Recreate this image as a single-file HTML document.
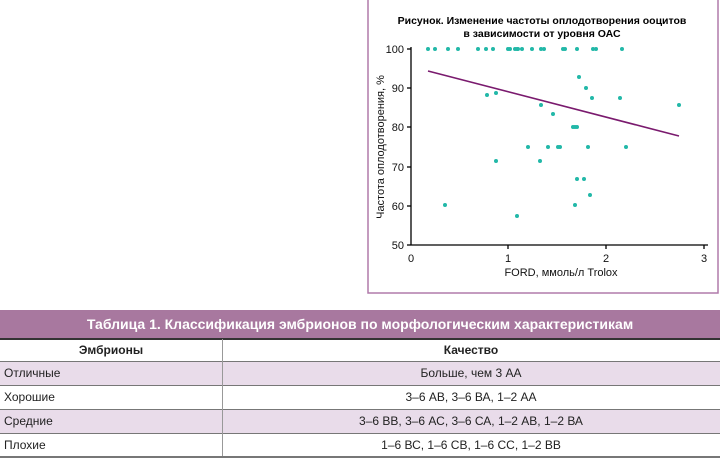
<!DOCTYPE html>
<html><head><meta charset="utf-8"><style>
body{margin:0;width:720px;height:461px;background:#fff;position:relative;overflow:hidden;font-family:"Liberation Sans Narrow","Liberation Sans",sans-serif;}
.a{position:absolute;}
.t{font-size:12px;color:#222;}
</style></head><body>
<svg class="a" style="left:0;top:0" width="720" height="300" font-family="Liberation Sans, sans-serif">
<rect x="368" y="-2" width="350" height="295" fill="none" stroke="#b07aaa" stroke-width="1.5"/>
<text x="542" y="24" text-anchor="middle" font-size="10.5" font-weight="bold">Рисунок. Изменение частоты оплодотворения ооцитов</text>
<text x="542" y="37" text-anchor="middle" font-size="10.5" font-weight="bold">в зависимости от уровня ОАС</text>
<g stroke="#000" stroke-width="1.3">
<line x1="411" y1="47" x2="411" y2="245"/><line x1="411" y1="245" x2="708" y2="245"/>
<line x1="407" y1="49" x2="411" y2="49"/><line x1="407" y1="88" x2="411" y2="88"/><line x1="407" y1="127" x2="411" y2="127"/><line x1="407" y1="167" x2="411" y2="167"/><line x1="407" y1="206" x2="411" y2="206"/><line x1="407" y1="245" x2="411" y2="245"/>
<line x1="508" y1="245" x2="508" y2="249"/><line x1="606" y1="245" x2="606" y2="249"/><line x1="704" y1="245" x2="704" y2="249"/>
</g>
<g font-size="11" text-anchor="end" fill="#111">
<text x="404" y="53">100</text><text x="404" y="92">90</text><text x="404" y="131">80</text><text x="404" y="171">70</text><text x="404" y="210">60</text><text x="404" y="249">50</text>
</g>
<g font-size="11" text-anchor="middle" fill="#111">
<text x="411" y="262">0</text><text x="508" y="262">1</text><text x="606" y="262">2</text><text x="704" y="262">3</text>
<text x="561" y="276">FORD, ммоль/л Trolox</text>
</g>
<text transform="translate(384,147) rotate(-90)" font-size="11" text-anchor="middle" fill="#111">Частота оплодотворения, %</text>
<line x1="428" y1="71" x2="679" y2="136" stroke="#7a1a6e" stroke-width="1.6"/>
<g fill="#22b8a8">
<circle cx="428" cy="49" r="2"/><circle cx="435" cy="49" r="2"/><circle cx="448" cy="49" r="2"/><circle cx="458" cy="49" r="2"/><circle cx="478" cy="49" r="2"/><circle cx="486" cy="49" r="2"/><circle cx="493" cy="49" r="2"/><circle cx="508" cy="49" r="2"/><circle cx="510" cy="49" r="2"/><circle cx="515" cy="49" r="2"/><circle cx="517" cy="49" r="2"/><circle cx="518" cy="49" r="2"/><circle cx="522" cy="49" r="2"/><circle cx="532" cy="49" r="2"/><circle cx="541" cy="49" r="2"/><circle cx="544" cy="49" r="2"/><circle cx="563" cy="49" r="2"/><circle cx="565" cy="49" r="2"/><circle cx="577" cy="49" r="2"/><circle cx="593" cy="49" r="2"/><circle cx="596" cy="49" r="2"/><circle cx="622" cy="49" r="2"/>
<circle cx="579" cy="77" r="2"/><circle cx="586" cy="88" r="2"/><circle cx="487" cy="95" r="2"/><circle cx="496" cy="93" r="2"/><circle cx="592" cy="98" r="2"/><circle cx="620" cy="98" r="2"/><circle cx="679" cy="105" r="2"/><circle cx="541" cy="105" r="2"/><circle cx="553" cy="114" r="2"/><circle cx="573" cy="127" r="2"/><circle cx="575" cy="127" r="2"/><circle cx="577" cy="127" r="2"/><circle cx="528" cy="147" r="2"/><circle cx="548" cy="147" r="2"/><circle cx="558" cy="147" r="2"/><circle cx="560" cy="147" r="2"/><circle cx="588" cy="147" r="2"/><circle cx="626" cy="147" r="2"/><circle cx="496" cy="161" r="2"/><circle cx="540" cy="161" r="2"/><circle cx="577" cy="179" r="2"/><circle cx="584" cy="179" r="2"/><circle cx="590" cy="195" r="2"/><circle cx="445" cy="205" r="2"/><circle cx="575" cy="205" r="2"/><circle cx="517" cy="216" r="2"/>
</g>
</svg>
<div class="a" style="left:0;top:310px;width:720px;height:28px;background:#a8789f;color:#fff;font-weight:bold;font-size:14px;text-align:center;line-height:28px;">Таблица 1. Классификация эмбрионов по морфологическим характеристикам</div>
<div class="a" style="left:0;top:338px;width:720px;height:1.5px;background:#333"></div>
<div class="a t" style="left:0;top:339px;width:222px;height:23px;line-height:23px;text-align:center;font-weight:bold;">Эмбрионы</div>
<div class="a t" style="left:222px;top:339px;width:498px;height:23px;line-height:23px;text-align:center;font-weight:bold;">Качество</div>
<div class="a" style="left:0;top:362px;width:720px;height:23px;background:#e9dcea"></div>
<div class="a" style="left:0;top:409px;width:720px;height:24px;background:#e9dcea"></div>
<div class="a" style="left:0;top:361px;width:720px;height:1px;background:#777"></div>
<div class="a" style="left:0;top:385px;width:720px;height:1px;background:#777"></div>
<div class="a" style="left:0;top:409px;width:720px;height:1px;background:#777"></div>
<div class="a" style="left:0;top:433px;width:720px;height:1px;background:#777"></div>
<div class="a" style="left:0;top:456px;width:720px;height:2px;background:#777"></div>
<div class="a" style="left:222px;top:339px;width:1px;height:117px;background:#999"></div>
<div class="a t" style="left:4px;top:362px;line-height:23px;">Отличные</div>
<div class="a t" style="left:4px;top:386px;line-height:23px;">Хорошие</div>
<div class="a t" style="left:4px;top:409px;line-height:24px;">Средние</div>
<div class="a t" style="left:4px;top:433px;line-height:24px;">Плохие</div>
<div class="a t" style="left:222px;width:498px;text-align:center;top:362px;line-height:23px;">Больше, чем 3 АА</div>
<div class="a t" style="left:222px;width:498px;text-align:center;top:386px;line-height:23px;">3–6 АВ, 3–6 ВА, 1–2 АА</div>
<div class="a t" style="left:222px;width:498px;text-align:center;top:409px;line-height:24px;">3–6 ВВ, 3–6 АС, 3–6 СА, 1–2 АВ, 1–2 ВА</div>
<div class="a t" style="left:222px;width:498px;text-align:center;top:433px;line-height:24px;">1–6 ВС, 1–6 СВ, 1–6 СС, 1–2 ВВ</div>
</body></html>
